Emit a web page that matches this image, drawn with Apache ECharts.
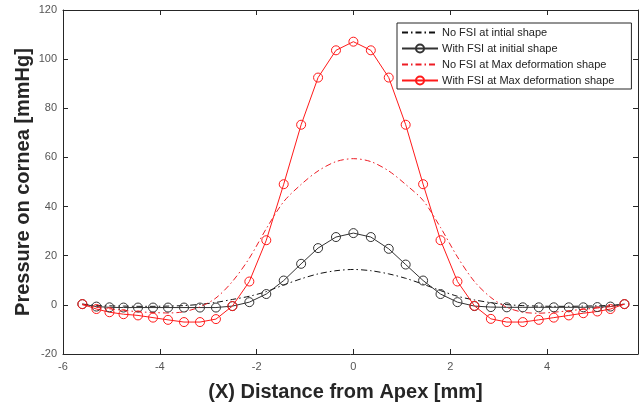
<!DOCTYPE html>
<html>
<head>
<meta charset="utf-8">
<script src="https://cdn.jsdelivr.net/npm/echarts@6/dist/echarts.min.js"></script>
<style>
html,body{margin:0;padding:0;background:#fff;}
#chart{width:639px;height:408px;}
</style>
</head>
<body>
<div id="chart"></div>
<script>
const xPositions = [-5.6,-5.31,-5.04,-4.75,-4.45,-4.14,-3.83,-3.5,-3.17,-2.84,-2.5,-2.15,-1.8,-1.44,-1.08,-0.73,-0.36,0,0.36,0.73,1.08,1.44,1.8,2.15,2.5,2.84,3.17,3.5,3.83,4.14,4.45,4.75,5.04,5.31,5.6];

const noFsiInitial = [0.3,-0.2,-0.4,-0.5,-0.6,-0.6,-0.5,-0.3,0.2,1.0,2.2,3.5,5.4,8.1,10.6,12.6,13.9,14.4,13.9,12.6,10.8,8.4,5.8,3.5,2.0,0.9,0.1,-0.3,-0.5,-0.6,-0.6,-0.5,-0.4,-0.2,0.3];

const withFsiInitial = [0.3,-0.7,-1.0,-1.1,-1.1,-1.1,-1.1,-1.1,-1.1,-1.1,-0.5,1.1,4.4,9.9,16.7,23.1,27.6,29.2,27.6,22.8,16.4,9.9,4.4,1.1,-0.5,-0.9,-1.0,-1.0,-1.0,-1.0,-1.0,-1.0,-0.9,-0.7,0.3];

const noFsiMax = [0.0,-1.0,-1.6,-2.2,-2.8,-3.1,-3.3,-2.8,-0.8,2.8,9.5,19.0,31.0,42.0,49.0,54.5,58.3,59.5,58.3,54.5,49.0,42.5,31.5,19.5,9.5,3.0,-1.0,-3.0,-3.4,-3.0,-2.4,-1.8,-1.3,-0.7,0.2];

const withFsiMax = [0.3,-1.7,-3.0,-3.8,-4.3,-5.2,-6.1,-7.0,-7.0,-5.8,-0.5,9.5,26.3,49.1,73.3,92.5,103.6,107.1,103.6,92.5,73.3,49.1,26.3,9.5,-0.4,-5.7,-7.0,-7.0,-6.1,-5.2,-4.3,-3.4,-2.7,-1.7,0.3];

const seriesNames = ['No FSI at intial shape','With FSI at initial shape','No FSI at Max deformation shape','With FSI at Max deformation shape'];

const xTicks = [-6,-4,-2,0,2,4];
const yTicks = [-20,0,20,40,60,80,100,120];

function pairs(ys){ return xPositions.map((x,i)=>[x, ys[i]]); }

const FONT = 'Liberation Sans, Arial, sans-serif';
const dashDot = [6,3,1.5,3];

const chart = echarts.init(document.getElementById('chart'), null, {renderer:'canvas'});
function axisCommon(){
  return {
    axisLine:{show:true, onZero:false, lineStyle:{color:'#262626', width:1}},
    axisTick:{show:true, inside:true, length:5, lineStyle:{color:'#262626'}},
    splitLine:{show:false}
  };
}
chart.setOption({
  backgroundColor:'#fff',
  animation:false,
  grid:{left:63, right:1, top:10, bottom:54, containLabel:false},
  legend:{
    show:true,
    orient:'vertical',
    left:397, top:23,
    padding:[4,17,3,4],
    itemGap:5,
    itemWidth:36,
    itemHeight:10,
    borderColor:'#262626', borderWidth:1,
    backgroundColor:'#fff',
    textStyle:{fontFamily:FONT, fontSize:11, color:'#222', padding:[0,0,0,-1]},
    data:[
      {name:seriesNames[0], itemStyle:{opacity:0}},
      {name:seriesNames[1]},
      {name:seriesNames[2], itemStyle:{opacity:0}},
      {name:seriesNames[3]}
    ]
  },
  xAxis:[
    Object.assign(axisCommon(), {
      type:'value', min:-6, max:5.88, interval:2, position:'bottom',
      axisLabel:{show:true, showMaxLabel:false, margin:7, color:'#555', fontSize:11, fontFamily:FONT,
        formatter:v => xTicks.includes(v) ? String(v) : ''},
      name:'(X) Distance from Apex [mm]', nameLocation:'middle', nameGap:28,
      nameTextStyle:{fontFamily:FONT, fontSize:20, fontWeight:'bold', color:'#262626', padding:[0,10,0,0]}
    }),
    Object.assign(axisCommon(), {
      type:'value', min:-6, max:5.88, interval:2, position:'top',
      axisLabel:{show:false}
    })
  ],
  yAxis:[
    Object.assign(axisCommon(), {
      type:'value', min:-20, max:120, interval:20, position:'left',
      axisLabel:{show:true, margin:6, color:'#555', fontSize:11, fontFamily:FONT,
        formatter:v => yTicks.includes(v) ? String(v) : ''},
      name:'Pressure on cornea [mmHg]', nameLocation:'middle', nameGap:30, nameMoveOverlap:false,
      nameTextStyle:{fontFamily:FONT, fontSize:20, fontWeight:'bold', color:'#262626'}
    }),
    Object.assign(axisCommon(), {
      type:'value', min:-20, max:120, interval:20, position:'right',
      axisLabel:{show:false}
    })
  ],
  series:[
    {
      name:seriesNames[0], type:'line', data:pairs(noFsiInitial), smooth:0.3,
      showSymbol:false, symbol:'none',
      lineStyle:{color:'#111', width:1, type:dashDot},
      itemStyle:{color:'#111'}
    },
    {
      name:seriesNames[1], type:'line', data:pairs(withFsiInitial),
      symbol:'circle', symbolSize:9,
      lineStyle:{color:'#333', width:1},
      itemStyle:{color:'rgba(0,0,0,0)', borderColor:'#333', borderWidth:1}
    },
    {
      name:seriesNames[2], type:'line', data:pairs(noFsiMax), smooth:0.3,
      showSymbol:false, symbol:'none',
      lineStyle:{color:'#ee1c24', width:1, type:dashDot},
      itemStyle:{color:'#ee1c24'}
    },
    {
      name:seriesNames[3], type:'line', data:pairs(withFsiMax),
      symbol:'circle', symbolSize:9,
      lineStyle:{color:'#ff1a1a', width:1},
      itemStyle:{color:'rgba(0,0,0,0)', borderColor:'#ff1a1a', borderWidth:1}
    }
  ]
});
</script>
</body>
</html>
